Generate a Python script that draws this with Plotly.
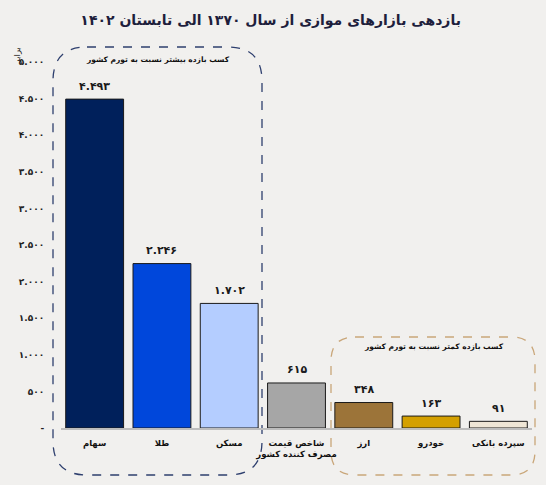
import plotly.graph_objects as go

# data
categories = ["سهام", "طلا", "مسکن", "شاخص قیمت<br>مصرف کننده کشور", "ارز", "خودرو", "سپرده بانکی"]
returns = [4493, 2246, 1702, 615, 348, 163, 91]
bar_colors = ["#00205B", "#0047DB", "#B4CDFF", "#A6A6A6", "#9C7439", "#D4A000", "#EFE6D6"]
y_ticks = [0, 500, 1000, 1500, 2000, 2500, 3000, 3500, 4000, 4500, 5000]
group_labels = ["کسب بازده بیشتر نسبت به تورم کشور", "کسب بازده کمتر نسبت به تورم کشور"]

FA = str.maketrans("0123456789", "۰۱۲۳۴۵۶۷۸۹")


def fa_num(n):
    if n == 0:
        return "-"
    return f"{n:,}".replace(",", ".").translate(FA)


FONT = "DejaVu Sans"
BG = "#F1F0EE"
W, H = 546, 485
L, R, T, B = 61, 14, 40, 57
PX_PER_UNIT = 366 / 5000          # 5000 sits 366px above the baseline
YTOP = (H - T - B) / PX_PER_UNIT  # plot area reaches up to y=40px


# pixel -> paper / data helpers for the decorative pieces
def px_x(px):
    return (px - L) / (W - L - R)


def px_y(py):
    return (H - B - py) / (H - T - B)


def dx(px):
    return px_x(px) * len(categories) - 0.5


def dy(py):
    return px_y(py) * YTOP


def rounded_box(x0, y0, x1, y1, r):
    # x0,y0 top-left, x1,y1 bottom-right in pixels
    pts = [
        f"M {px_x(x0 + r)},{px_y(y0)}",
        f"L {px_x(x1 - r)},{px_y(y0)}",
        f"Q {px_x(x1)},{px_y(y0)} {px_x(x1)},{px_y(y0 + r)}",
        f"L {px_x(x1)},{px_y(y1 - r)}",
        f"Q {px_x(x1)},{px_y(y1)} {px_x(x1 - r)},{px_y(y1)}",
        f"L {px_x(x0 + r)},{px_y(y1)}",
        f"Q {px_x(x0)},{px_y(y1)} {px_x(x0)},{px_y(y1 - r)}",
        f"L {px_x(x0)},{px_y(y0 + r)}",
        f"Q {px_x(x0)},{px_y(y0)} {px_x(x0 + r)},{px_y(y0)}",
        "Z",
    ]
    return " ".join(pts)


fig = go.Figure()

fig.add_trace(go.Bar(
    x=list(range(len(categories))),
    y=returns,
    marker=dict(color=bar_colors, line=dict(color="#1a1a1a", width=1)),
    width=0.86,
    hoverinfo="skip",
))

# value labels above bars
for i, v in enumerate(returns):
    fig.add_annotation(
        x=i, y=v, text=fa_num(v), showarrow=False, yshift=13,
        font=dict(family=FONT, size=11, color="#1a1a1a", weight="bold"),
    )

# dashed group boxes
fig.add_shape(type="path", path=rounded_box(53, 47, 262, 475, 34), xref="paper", yref="paper",
              line=dict(color="#2E3F6E", width=1.3, dash="dash"), layer="below")
fig.add_shape(type="path", path=rounded_box(331, 337, 535, 475, 24), xref="paper", yref="paper",
              line=dict(color="#C9A679", width=1.3, dash="dash"), layer="below")

# group captions as text marks (centred with text-anchor middle)
fig.add_trace(go.Scatter(
    x=[dx(158), dx(434)], y=[dy(60), dy(347)],
    mode="text", text=group_labels, textposition="middle center",
    textfont=dict(family=FONT, size=7.5, color="#111", weight="bold"),
    cliponaxis=False, hoverinfo="skip",
))

# unit label, rotated, top left
fig.add_annotation(xref="paper", yref="paper", x=px_x(10), y=px_y(46), text="برابر", textangle=-90,
                   showarrow=False, font=dict(family=FONT, size=8.5, color="#222"))

fig.update_layout(
    width=W, height=H,
    margin=dict(l=L, r=R, t=T, b=B),
    paper_bgcolor=BG,
    plot_bgcolor=BG,
    showlegend=False,
    title=dict(
        text="بازدهی بازارهای موازی از سال ۱۳۷۰ الی تابستان ۱۴۰۲",
        x=243 / W, xanchor="center", xref="paper",
        y=1 - 20 / H, yanchor="middle",
        font=dict(family=FONT, size=14, color="#1E1E3C", weight="bold"),
    ),
    xaxis=dict(
        range=[-0.5, len(categories) - 0.5],
        tickvals=list(range(len(categories))),
        ticktext=categories,
        tickfont=dict(family=FONT, size=8.5, color="#111", weight="bold"),
        ticks="outside", ticklen=6, tickcolor="rgba(0,0,0,0)",
        showline=True, linecolor="#BDBDBD", linewidth=2,
        showgrid=False, zeroline=False, fixedrange=True, automargin=False,
    ),
    yaxis=dict(
        range=[0, YTOP],
        tickvals=y_ticks,
        ticktext=[fa_num(v) for v in y_ticks],
        tickfont=dict(family=FONT, size=9, color="#222", weight="bold"),
        ticks="outside", ticklen=14, tickcolor="rgba(0,0,0,0)",
        showgrid=False, zeroline=False, showline=False, fixedrange=True, automargin=False,
    ),
)

fig.write_html("out.html", config={"displayModeBar": False},
               post_script="document.body.style.margin='0';document.body.style.background='" + BG + "';")
